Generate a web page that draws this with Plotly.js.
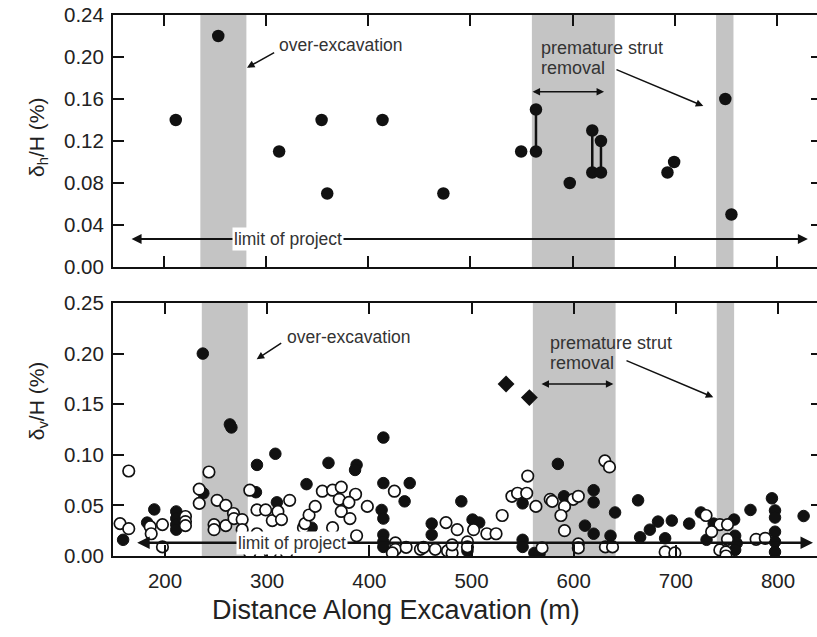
<!DOCTYPE html>
<html>
<head>
<meta charset="utf-8">
<script src="https://cdn.plot.ly/plotly-3.0.1.min.js"></script>
<style>
html,body{margin:0;padding:0;overflow:hidden;background:#fff;}
#chart{width:822px;height:637px;}
</style>
</head>
<body>
<div id="chart"></div>
<script>
// ---- Data ----
// Horizontal wall deflection (top panel)
const hDist = [212, 253.5, 313, 354.5, 360, 414, 473.5, 549.5, 564, 564, 597, 619, 619, 627.5, 627.5, 692.5, 699, 749, 755];
const hVal  = [0.14, 0.22, 0.11, 0.14, 0.07, 0.14, 0.07, 0.11, 0.15, 0.11, 0.08, 0.13, 0.09, 0.12, 0.09, 0.09, 0.10, 0.16, 0.05];
// paired readings joined by a vertical line
const pairDist = [564, 619, 627.5];
const pairLow  = [0.11, 0.09, 0.09];
const pairHigh = [0.15, 0.13, 0.12];

// Vertical settlement (bottom panel) - filled circles
const vFilledDist = [159, 182.5, 189.5, 211, 211, 211, 211, 237, 237.5, 263.5, 265, 289, 290, 308, 309.5,
  338.5, 343.5, 360, 387.5, 386, 413.7, 413.7, 412, 413.7, 413.7, 413.7, 413.7, 434.5, 439.5, 461, 461,
  490, 501, 507.5, 496, 550, 550, 550, 561.5, 566.5, 584.5, 590.5, 611, 619.5, 619.5, 619.5, 636, 640.5,
  663, 665, 674.5, 682.5, 689.5, 696, 713, 724.5, 730, 737, 757, 758, 759.5, 758, 773, 794,
  797, 797, 797, 797, 797, 825];
const vFilledVal = [0.016, 0.033, 0.046, 0.044, 0.037, 0.031, 0.026, 0.200, 0.062, 0.130, 0.127, 0.063, 0.090, 0.101, 0.053,
  0.071, 0.028, 0.092, 0.090, 0.085, 0.117, 0.072, 0.0455, 0.037, 0.021, 0.014, 0.009, 0.054, 0.072, 0.032, 0.021,
  0.054, 0.036, 0.033, 0.005, 0.052, 0.016, 0.009, 0.003, 0.002, 0.091, 0.059, 0.030, 0.022, 0.065, 0.053, 0.020, 0.043,
  0.055, 0.0185, 0.026, 0.034, 0.0175, 0.035, 0.032, 0.043, 0.016, 0.032, 0.036, 0.020, 0.0125, 0.006, 0.0455, 0.057,
  0.045, 0.038, 0.024, 0.014, 0.004, 0.0395];
// open circles
const vOpenDist = [164.5, 156, 164.5, 185.5, 186.5, 197.5, 197.5, 220, 220, 220, 233.5, 233.5, 243, 248, 248, 251,
  259.5, 259.5, 267, 267.5, 275.5, 275.5, 283, 290, 298.5, 290, 305, 310.5, 314, 322, 283, 303, 319,
  335.5, 337, 341, 347, 354, 364, 372.5, 370.5, 386.5, 380, 372.5, 398, 381, 364, 387.5,
  424.5, 425.5, 425.5, 422.5, 436, 450, 453, 464.5, 475, 486, 476.5, 481, 481,
  502, 515, 524, 530, 496, 496, 555, 539.5, 545, 554, 563, 569, 577, 579, 599.5, 604.5, 591, 587.5, 591,
  630.5, 635, 604.5, 604.5, 631, 638, 689.5, 699, 729.5, 743, 750.5, 735, 750.5, 743, 749, 749, 778.5, 787.5];
const vOpenVal = [0.084, 0.032, 0.027, 0.029, 0.022, 0.031, 0.009, 0.039, 0.034, 0.030, 0.066, 0.052, 0.083, 0.031, 0.026, 0.055,
  0.050, 0.030, 0.042, 0.037, 0.036, 0.026, 0.065, 0.0455, 0.0455, 0.022, 0.035, 0.044, 0.036, 0.055, 0.003, 0.003, 0.003,
  0.028, 0.032, 0.0405, 0.049, 0.064, 0.065, 0.068, 0.056, 0.061, 0.053, 0.044, 0.049, 0.037, 0.028, 0.020,
  0.064, 0.013, 0.0066, 0.003, 0.0086, 0.0066, 0.0086, 0.0066, 0.033, 0.026, 0.005, 0.003, 0.011,
  0.026, 0.022, 0.022, 0.040, 0.014, 0.009, 0.079, 0.059, 0.062, 0.062, 0.049, 0.008, 0.056, 0.054, 0.056, 0.059, 0.049, 0.040, 0.025,
  0.094, 0.088, 0.012, 0.008, 0.009, 0.009, 0.004, 0.003, 0.040, 0.031, 0.031, 0.024, 0.0165, 0.006, 0.004, 0.000, 0.0165, 0.0175];
// diamonds
const vDiamondDist = [533.8, 556.6];
const vDiamondVal  = [0.170, 0.1565];

// event zones (distance ranges)
const overExcavationZone = [236, 281];
const strutRemovalZones = [[560, 641], [740, 757]];

const xTicks = [200, 300, 400, 500, 600, 700, 800];

// ---- Build ----
const FONT = 'Liberation Sans, Arial, Helvetica, sans-serif';
const INK = '#111111';

const linkX = [], linkY = [];
pairDist.forEach((d, i) => { linkX.push(d, d, null); linkY.push(pairLow[i], pairHigh[i], null); });

const traces = [
  {x: linkX, y: linkY, xaxis: 'x', yaxis: 'y', mode: 'lines', line: {color: INK, width: 2.5}, hoverinfo: 'skip'},
  {x: hDist, y: hVal, xaxis: 'x', yaxis: 'y', mode: 'markers', marker: {size: 12.5, color: INK, line: {width: 0}}},
  {x: vFilledDist, y: vFilledVal, xaxis: 'x2', yaxis: 'y2', mode: 'markers', marker: {size: 11.5, color: INK, line: {color: INK, width: 1}}},
  {x: vOpenDist, y: vOpenVal, xaxis: 'x2', yaxis: 'y2', mode: 'markers', marker: {size: 11.5, color: '#ffffff', line: {color: INK, width: 1.7}}},
  {x: vDiamondDist, y: vDiamondVal, xaxis: 'x2', yaxis: 'y2', mode: 'markers', marker: {symbol: 'diamond', size: 13, color: INK, line: {width: 0}}}
];

const zones = [overExcavationZone].concat(strutRemovalZones);
const shapes = [];
[['x', 'y domain'], ['x2', 'y2 domain']].forEach(([xr, yr]) => {
  zones.forEach(z => shapes.push({type: 'rect', xref: xr, yref: yr, x0: z[0], x1: z[1], y0: 0, y1: 1,
    fillcolor: '#c4c4c4', line: {width: 0}, layer: 'below'}));
});

function arrow(xr, yr, tail, head, opts) {
  return Object.assign({xref: xr, yref: yr, axref: xr, ayref: yr, x: head[0], y: head[1], ax: tail[0], ay: tail[1],
    text: '', showarrow: true, arrowhead: 2, arrowsize: 1, arrowwidth: 1.5, arrowcolor: INK, standoff: 0, startstandoff: 0}, opts || {});
}
function label(xr, yr, x, y, text, size, opts) {
  return Object.assign({xref: xr, yref: yr, x: x, y: y, text: text, showarrow: false, xanchor: 'left', yanchor: 'middle',
    align: 'left', font: {family: FONT, size: size, color: '#333'}}, opts || {});
}

const annotations = [
  // top panel
  label('x', 'y', 310.9, 0.2114, 'over-excavation', 17.5),
  arrow('x', 'y', [309.6, 0.205], [281.6, 0.1898]),
  label('x', 'y', 567.2, 0.2089, 'premature strut', 18),
  label('x', 'y', 567.2, 0.1892, 'removal', 18),
  arrow('x', 'y', [559.2, 0.167], [630.5, 0.167], {arrowside: 'end+start'}),
  arrow('x', 'y', [641.2, 0.1886], [727.5, 0.1533]),
  arrow('x', 'y', [167.3, 0.0267], [829.7, 0.0267], {arrowside: 'end+start', arrowwidth: 2}),
  label('x', 'y', 321.7, 0.0267, 'limit of project', 17.5, {xanchor: 'center', bgcolor: '#ffffff', borderpad: 1}),
  // bottom panel
  label('x2', 'y2', 317.5, 0.2167, 'over-excavation', 17.5),
  arrow('x2', 'y2', [315.2, 0.2112], [289.7, 0.1944]),
  label('x2', 'y2', 575.2, 0.2108, 'premature strut', 18),
  label('x2', 'y2', 575.2, 0.191, 'removal', 18),
  arrow('x2', 'y2', [567, 0.170], [638.8, 0.170], {arrowside: 'end+start'}),
  arrow('x2', 'y2', [650.2, 0.1937], [736.6, 0.1568]),
  arrow('x2', 'y2', [171.3, 0.0132], [834.2, 0.0132], {arrowside: 'end+start', arrowwidth: 2.5}),
  label('x2', 'y2', 324.3, 0.0132, 'limit of project', 17.5, {xanchor: 'center', bgcolor: '#ffffff', borderpad: 1}),
  // axis titles
  {xref: 'paper', yref: 'paper', x: -0.1058, y: 0.7745, text: 'δ<sub>h</sub>/H (%)', textangle: -90, showarrow: false,
   xanchor: 'center', yanchor: 'middle', font: {family: FONT, size: 21, color: '#222'}},
  {xref: 'paper', yref: 'paper', x: -0.1058, y: 0.288, text: 'δ<sub>v</sub>/H (%)', textangle: -90, showarrow: false,
   xanchor: 'center', yanchor: 'middle', font: {family: FONT, size: 21, color: '#222'}},
  {xref: 'paper', yref: 'paper', x: 0.3985, y: -0.0998, text: 'Distance Along Excavation (m)', showarrow: false,
   xanchor: 'center', yanchor: 'middle', font: {family: FONT, size: 27, color: '#222'}}
];

const axisCommon = {showgrid: false, zeroline: false, showline: true, linecolor: INK, linewidth: 2,
  mirror: 'ticks', ticks: 'inside', ticklen: 11, tickwidth: 2, tickcolor: INK,
  tickfont: {family: FONT, size: 20.5, color: '#222'}};

const layout = {
  width: 822, height: 637,
  margin: {l: 113, r: 0, t: 15, b: 81},
  paper_bgcolor: '#ffffff', plot_bgcolor: 'rgba(0,0,0,0)',
  showlegend: false,
  xaxis: Object.assign({}, axisCommon, {domain: [0, 1], anchor: 'y', range: [150.65, 843.5], tickvals: xTicks, showticklabels: false}),
  yaxis: Object.assign({}, axisCommon, {domain: [0.5342, 1], anchor: 'x', range: [0, 0.24], tickvals: [0, 0.04, 0.08, 0.12, 0.16, 0.20, 0.24], tickformat: '.2f', ticklabelstandoff: 3}),
  xaxis2: Object.assign({}, axisCommon, {domain: [0, 1], anchor: 'y2', range: [149.1, 843], tickvals: xTicks, ticktext: xTicks.map(String), ticklabelstandoff: 5}),
  yaxis2: Object.assign({}, axisCommon, {domain: [0, 0.4677], anchor: 'x2', range: [0, 0.25], tickvals: [0, 0.05, 0.10, 0.15, 0.20, 0.25], tickformat: '.2f', ticklabelstandoff: 3}),
  shapes: shapes,
  annotations: annotations
};

Plotly.newPlot('chart', traces, layout, {displayModeBar: false, staticPlot: true});
</script>
</body>
</html>
